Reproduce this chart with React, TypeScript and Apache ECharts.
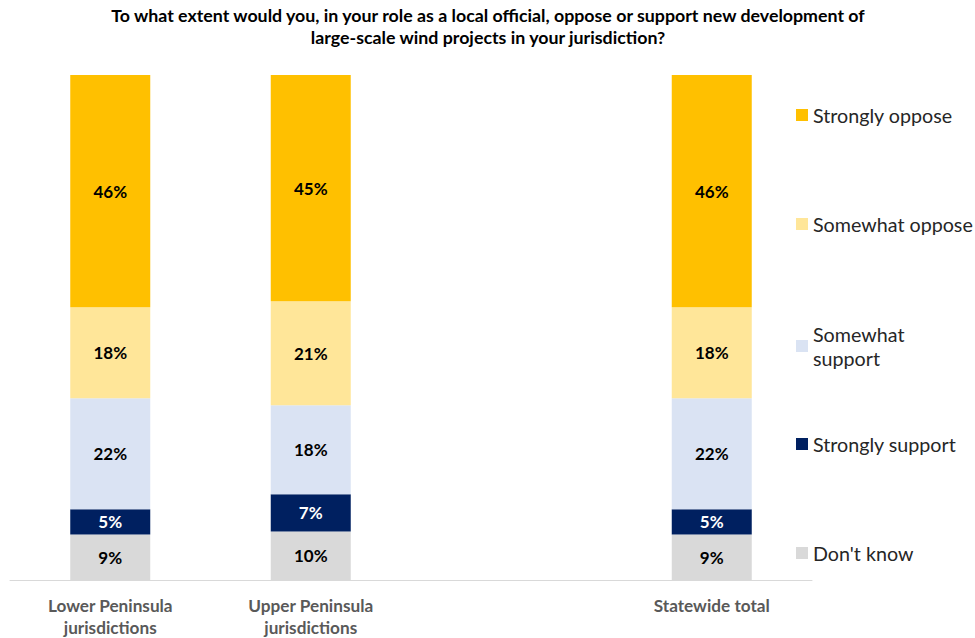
import React, { useEffect, useRef } from "react";
import * as echarts from "echarts";

const titleText =
  "To what extent would you, in your role as a local official, oppose or support new development of\nlarge-scale wind projects in your jurisdiction?";

const categories = [
  "Lower Peninsula\njurisdictions",
  "Upper Peninsula\njurisdictions",
  "",
  "Statewide total",
];

// stacked from the bottom up
const seriesNames = [
  "Don't know",
  "Strongly support",
  "Somewhat support",
  "Somewhat oppose",
  "Strongly oppose",
];

const dontKnow = [9, 9.6, null, 9];
const stronglySupport = [5, 7.4, null, 5];
const somewhatSupport = [22, 17.6, null, 22];
const somewhatOppose = [18, 20.6, null, 18];
const stronglyOppose = [46, 44.8, null, 46];

const seriesValues = [dontKnow, stronglySupport, somewhatSupport, somewhatOppose, stronglyOppose];
const colors = ["#D9D9D9", "#002060", "#DAE3F3", "#FFE699", "#FFC000"];
const labelColors = ["#000000", "#FFFFFF", "#000000", "#000000", "#000000"];

// legend display order (top to bottom) and vertical centres
const legendOrder = [
  "Strongly oppose",
  "Somewhat oppose",
  "Somewhat support",
  "Strongly support",
  "Don't know",
];
const legendCenters = [115, 224, 346, 444, 553];

const FONT = "Lato, 'Open Sans', sans-serif";

export default function App() {
  const ref = useRef<HTMLDivElement>(null);

  useEffect(() => {
    if (!ref.current) return;
    const chart = echarts.init(ref.current, undefined, { renderer: "svg" });

    const series = seriesNames.map((name, i) => ({
      name,
      type: "bar",
      stack: "total",
      barWidth: 80,
      data: seriesValues[i].map((v) => (v == null ? "-" : v)),
      itemStyle: { color: colors[i] },
      label: {
        show: true,
        position: "inside",
        formatter: (p: any) => Math.round(p.value) + "%",
        color: labelColors[i],
        fontFamily: FONT,
        fontWeight: "bold",
        fontSize: 17,
      },
    }));

    const legends = legendOrder.map((name, i) => {
      const twoLine = name === "Somewhat support";
      return {
        data: [name],
        orient: "vertical",
        left: 796,
        top: legendCenters[i] - (twoLine ? 24 : 12),
        itemWidth: 12,
        itemHeight: 12,
        itemGap: 0,
        icon: "rect",
        selectedMode: false,
        formatter: (n: string) => (n === "Somewhat support" ? "Somewhat\nsupport" : n),
        textStyle: {
          fontFamily: FONT,
          fontSize: 19.7,
          color: "#262626",
          lineHeight: 24,
        },
        padding: 0,
      };
    });

    chart.setOption({
      animation: false,
      color: colors,
      title: {
        text: titleText,
        left: 488,
        textAlign: "center",
        top: 4,
        padding: 0,
        textStyle: {
          fontFamily: FONT,
          fontWeight: "bold",
          fontSize: 17.8,
          lineHeight: 22,
          color: "#000000",
        },
      },
      legend: legends,
      grid: { left: 10, right: 163, top: 75, bottom: 58, containLabel: false },
      xAxis: {
        type: "category",
        data: categories,
        axisLine: { show: true, lineStyle: { color: "#D9D9D9", width: 1 } },
        axisTick: { show: false },
        axisLabel: {
          interval: 0,
          margin: 14,
          fontFamily: FONT,
          fontWeight: "bold",
          fontSize: 17.2,
          lineHeight: 22,
          color: "#595959",
        },
      },
      yAxis: {
        type: "value",
        min: 0,
        max: 100,
        show: false,
        splitLine: { show: false },
      },
      series,
    });

    return () => chart.dispose();
  }, []);

  return (
    <div
      ref={ref}
      style={{ position: "absolute", left: 0, top: 0, width: 975, height: 638 }}
    />
  );
}
